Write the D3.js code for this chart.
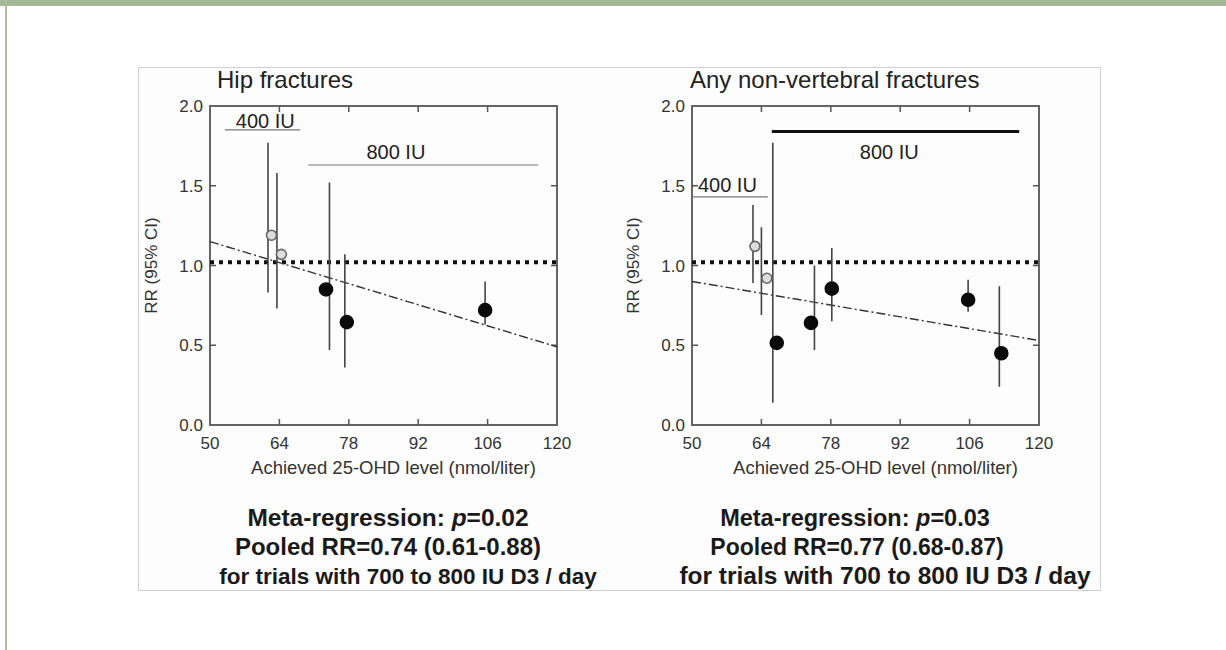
<!DOCTYPE html>
<html>
<head>
<meta charset="utf-8">
<script src="https://cdn.jsdelivr.net/npm/d3@7"></script>
<style>
  body { margin: 0; background: #fff; }
  text { font-family: "Liberation Sans", Arial, sans-serif; }
</style>
</head>
<body>
<div id="chart"></div>
<script>
const width = 1226
const height = 650

// x ticks / y ticks shared by both panels
const xTicks = [50, 64, 78, 92, 106, 120]
const yTicks = [0, 0.5, 1.0, 1.5, 2.0]

// Hip fractures
const hipX = [62.4, 64.4, 73.4, 77.6, 105.5]
const hipCiX = [61.7, 63.5, 74.1, 77.2, 105.5]
const hipRR = [1.19, 1.07, 0.85, 0.645, 0.72]
const hipLo = [0.83, 0.73, 0.47, 0.36, 0.63]
const hipHi = [1.77, 1.58, 1.52, 1.07, 0.90]
const hipOpen = [true, true, false, false, false]
const hipFit = [[50, 1.15], [120, 0.49]]

// Any non-vertebral fractures
const nvX = [62.7, 65.1, 67.1, 74.0, 78.2, 105.7, 112.4]
const nvCiX = [62.3, 64.0, 66.3, 74.7, 78.2, 105.7, 112.0]
const nvRR = [1.12, 0.92, 0.515, 0.64, 0.855, 0.785, 0.45]
const nvLo = [0.89, 0.69, 0.14, 0.47, 0.65, 0.71, 0.24]
const nvHi = [1.38, 1.24, 1.77, 1.00, 1.11, 0.91, 0.87]
const nvOpen = [true, true, false, false, false, false, false]
const nvFit = [[50, 0.90], [120, 0.53]]

const svg = d3.select("#chart").append("svg").attr("width", width).attr("height", height)

// page frame
svg.append("rect").attr("x", 0).attr("y", 0).attr("width", width).attr("height", 6).attr("fill", "#a3b899")
svg.append("rect").attr("x", 5).attr("y", 0).attr("width", 2).attr("height", height).attr("fill", "#a8bfa0")
svg.append("rect").attr("x", 138.5).attr("y", 67.5).attr("width", 962).attr("height", 523)
    .attr("fill", "#fdfdfd").attr("stroke", "#cfcfcf")

function panel(opt) {
    const x = d3.scaleLinear().domain([50, 120]).range([opt.left, opt.left + 347])
    const y = d3.scaleLinear().domain([0, 2]).range([425, 106])
    const g = svg.append("g")

    // title
    g.append("text").attr("x", opt.titleX).attr("y", 88).attr("font-size", 24).attr("fill", "#222").text(opt.title)

    // tick marks inside on all sides
    const tl = 6
    xTicks.slice(1, -1).forEach(t => {
        g.append("line").attr("x1", x(t)).attr("x2", x(t)).attr("y1", y(0)).attr("y2", y(0) - tl).attr("stroke", "#555").attr("stroke-width", 1.5)
        g.append("line").attr("x1", x(t)).attr("x2", x(t)).attr("y1", y(2)).attr("y2", y(2) + tl).attr("stroke", "#555").attr("stroke-width", 1.5)
    })
    yTicks.slice(1, -1).forEach(t => {
        g.append("line").attr("x1", x(50)).attr("x2", x(50) + tl).attr("y1", y(t)).attr("y2", y(t)).attr("stroke", "#555").attr("stroke-width", 1.5)
        g.append("line").attr("x1", x(120)).attr("x2", x(120) - tl).attr("y1", y(t)).attr("y2", y(t)).attr("stroke", "#555").attr("stroke-width", 1.5)
    })
    g.append("rect").attr("x", x(50)).attr("y", y(2)).attr("width", x(120) - x(50)).attr("height", y(0) - y(2))
        .attr("fill", "none").attr("stroke", "#555").attr("stroke-width", 1.8)

    // tick labels
    g.selectAll(".xl").data(xTicks).enter().append("text")
        .attr("x", d => x(d)).attr("y", 449).attr("text-anchor", "middle")
        .attr("font-size", 17).attr("fill", "#333").text(d => d)
    g.selectAll(".yl").data(yTicks).enter().append("text")
        .attr("x", x(50) - 7).attr("y", d => y(d) + 6).attr("text-anchor", "end")
        .attr("font-size", 17).attr("fill", "#333").text(d => d3.format(".1f")(d))

    g.append("text").attr("x", (x(50) + x(120)) / 2 + 10).attr("y", 474).attr("text-anchor", "middle")
        .attr("font-size", 18.5).attr("fill", "#333").text("Achieved 25-OHD level (nmol/liter)")
    g.append("text").attr("transform", `translate(${x(50) - 53}, ${y(1)}) rotate(-90)`).attr("text-anchor", "middle")
        .attr("font-size", 17).attr("fill", "#333").text("RR (95% CI)")

    // dose annotations
    opt.doses.forEach(d => {
        g.append("line").attr("x1", x(d.x0)).attr("x2", x(d.x1)).attr("y1", y(d.ly)).attr("y2", y(d.ly))
            .attr("stroke", d.thick ? "#111" : "#777").attr("stroke-width", d.thick ? 3.2 : 1.2)
        g.append("text").attr("x", x(d.tx)).attr("y", y(d.ty)).attr("text-anchor", d.anchor)
            .attr("font-size", 20).attr("fill", "#222").text(d.label)
    })

    // reference line RR = 1
    g.append("line").attr("x1", x(50)).attr("x2", x(120)).attr("y1", y(1.02)).attr("y2", y(1.02))
        .attr("stroke", "#111").attr("stroke-width", 4).attr("stroke-dasharray", "4,5")

    // meta-regression line
    g.append("path").datum(opt.fit)
        .attr("d", d3.line().x(d => x(d[0])).y(d => y(d[1])))
        .attr("fill", "none").attr("stroke", "#333").attr("stroke-width", 1.4).attr("stroke-dasharray", "9,3,2,3")

    // CI bars
    const idx = d3.range(opt.xs.length)
    g.selectAll(".ci").data(idx).enter().append("line")
        .attr("x1", i => x(opt.ciX[i])).attr("x2", i => x(opt.ciX[i]))
        .attr("y1", i => y(opt.lo[i])).attr("y2", i => y(opt.hi[i]))
        .attr("stroke", "#444").attr("stroke-width", 1.6)

    // points
    g.selectAll(".pt").data(idx).enter().append("circle")
        .attr("cx", i => x(opt.xs[i])).attr("cy", i => y(opt.rr[i]))
        .attr("r", i => opt.open[i] ? 5 : 6.5)
        .attr("fill", i => opt.open[i] ? "#ddd" : "#0a0a0a")
        .attr("stroke", i => opt.open[i] ? "#666" : "#0a0a0a").attr("stroke-width", 1.6)

    // summary text
    opt.notes.forEach((n, i) => {
        const t = g.append("text").attr("x", n.cx).attr("y", 526 + i * 29).attr("text-anchor", "middle")
            .attr("font-size", n.size).attr("font-weight", "bold").attr("fill", "#1a1a1a")
        if (n.p) {
            t.append("tspan").text("Meta-regression: ")
            t.append("tspan").attr("font-style", "italic").text("p")
            t.append("tspan").text("=" + n.p)
        } else {
            t.text(n.text)
        }
    })
}

panel({
    left: 210, title: "Hip fractures", titleX: 217,
    xs: hipX, ciX: hipCiX, rr: hipRR, lo: hipLo, hi: hipHi, open: hipOpen, fit: hipFit,
    doses: [
        {x0: 53.0, x1: 68.2, ly: 1.85, tx: 55.2, ty: 1.86, anchor: "start", label: "400 IU"},
        {x0: 69.8, x1: 116.2, ly: 1.63, tx: 87.5, ty: 1.67, anchor: "middle", label: "800 IU"}
    ],
    notes: [
        {cx: 388, size: 24.5, p: "0.02"},
        {cx: 388, size: 24, text: "Pooled RR=0.74 (0.61-0.88)"},
        {cx: 408, size: 22.5, text: "for trials with 700 to 800 IU D3 / day"}
    ]
})

panel({
    left: 692, title: "Any non-vertebral fractures", titleX: 690,
    xs: nvX, ciX: nvCiX, rr: nvRR, lo: nvLo, hi: nvHi, open: nvOpen, fit: nvFit,
    doses: [
        {x0: 50, x1: 65.3, ly: 1.43, tx: 51.2, ty: 1.46, anchor: "start", label: "400 IU"},
        {x0: 66.1, x1: 116, ly: 1.84, tx: 89.8, ty: 1.67, anchor: "middle", label: "800 IU", thick: true}
    ],
    notes: [
        {cx: 855, size: 23.5, p: "0.03"},
        {cx: 857, size: 23, text: "Pooled RR=0.77 (0.68-0.87)"},
        {cx: 885, size: 24.5, text: "for trials with 700 to 800 IU D3 / day"}
    ]
})
</script>
</body>
</html>
